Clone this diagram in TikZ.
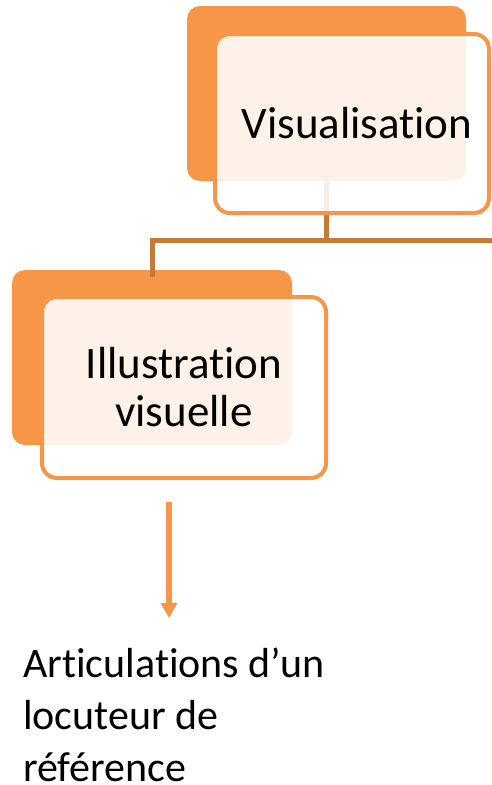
\documentclass[tikz,border=0pt]{standalone}
\usepackage{fontspec}
\setmainfont{Carlito}[Ligatures=NoCommon]
\usetikzlibrary{arrows.meta}
\definecolor{accent}{RGB}{247,150,70}
\definecolor{linkline}{RGB}{199,121,56}
\tikzset{
  backplate/.style={fill=accent, draw=none, rounded corners=13pt, inner sep=0pt},
  labelbox/.style={fill=white, fill opacity=0.88, text opacity=1, draw=accent,
    draw opacity=1, line width=4pt, rounded corners=15pt, inner sep=0pt,
    align=center, font=\fontsize{45}{48}\selectfont},
  treeline/.style={draw=linkline, line width=5pt},
  pointer/.style={draw=accent, line width=5.5pt, -{Triangle[width=16pt,length=15pt]}},
  caption/.style={inner sep=0pt, align=left, font=\fontsize{42}{52}\selectfont}
}
\begin{document}
\begin{tikzpicture}[x=1pt,y=-1pt]
  \useasboundingbox (0,0) rectangle (492,785);
  \clip (0,0) rectangle (492,785);

  % back plates
  \node[backplate, minimum width=279pt, minimum height=175pt] (topback) at (326.5,93.5) {};
  \node[backplate, minimum width=280pt, minimum height=175pt] (leftback) at (152,357.5) {};

  % hierarchy connector
  \coordinate (junction) at (topback.south |- 0,240);
  \coordinate (rightend) at (500,240);
  \draw[treeline] ([yshift=5pt]topback.south) -- (junction);
  \draw[treeline] (rightend) -- (junction -| leftback.north) -- ([yshift=-7pt]leftback.north);

  % labelled boxes
  \node[labelbox, minimum width=274pt, minimum height=179pt] (topbox) at (352,123.5) {\hspace*{10pt}Visualisation};
  \node[labelbox, minimum width=284pt, minimum height=181pt] (leftbox) at (184,387.5) {Illustration\\visuelle};

  % pointer to the description
  \coordinate (arrowstart) at (169,502);
  \coordinate (arrowend) at (169,618);
  \draw[pointer] (arrowstart) -- (arrowend);

  \node[caption, anchor=base west] (desc) at (23,781) {Articulations d’un\\locuteur de\\référence};
\end{tikzpicture}
\end{document}
